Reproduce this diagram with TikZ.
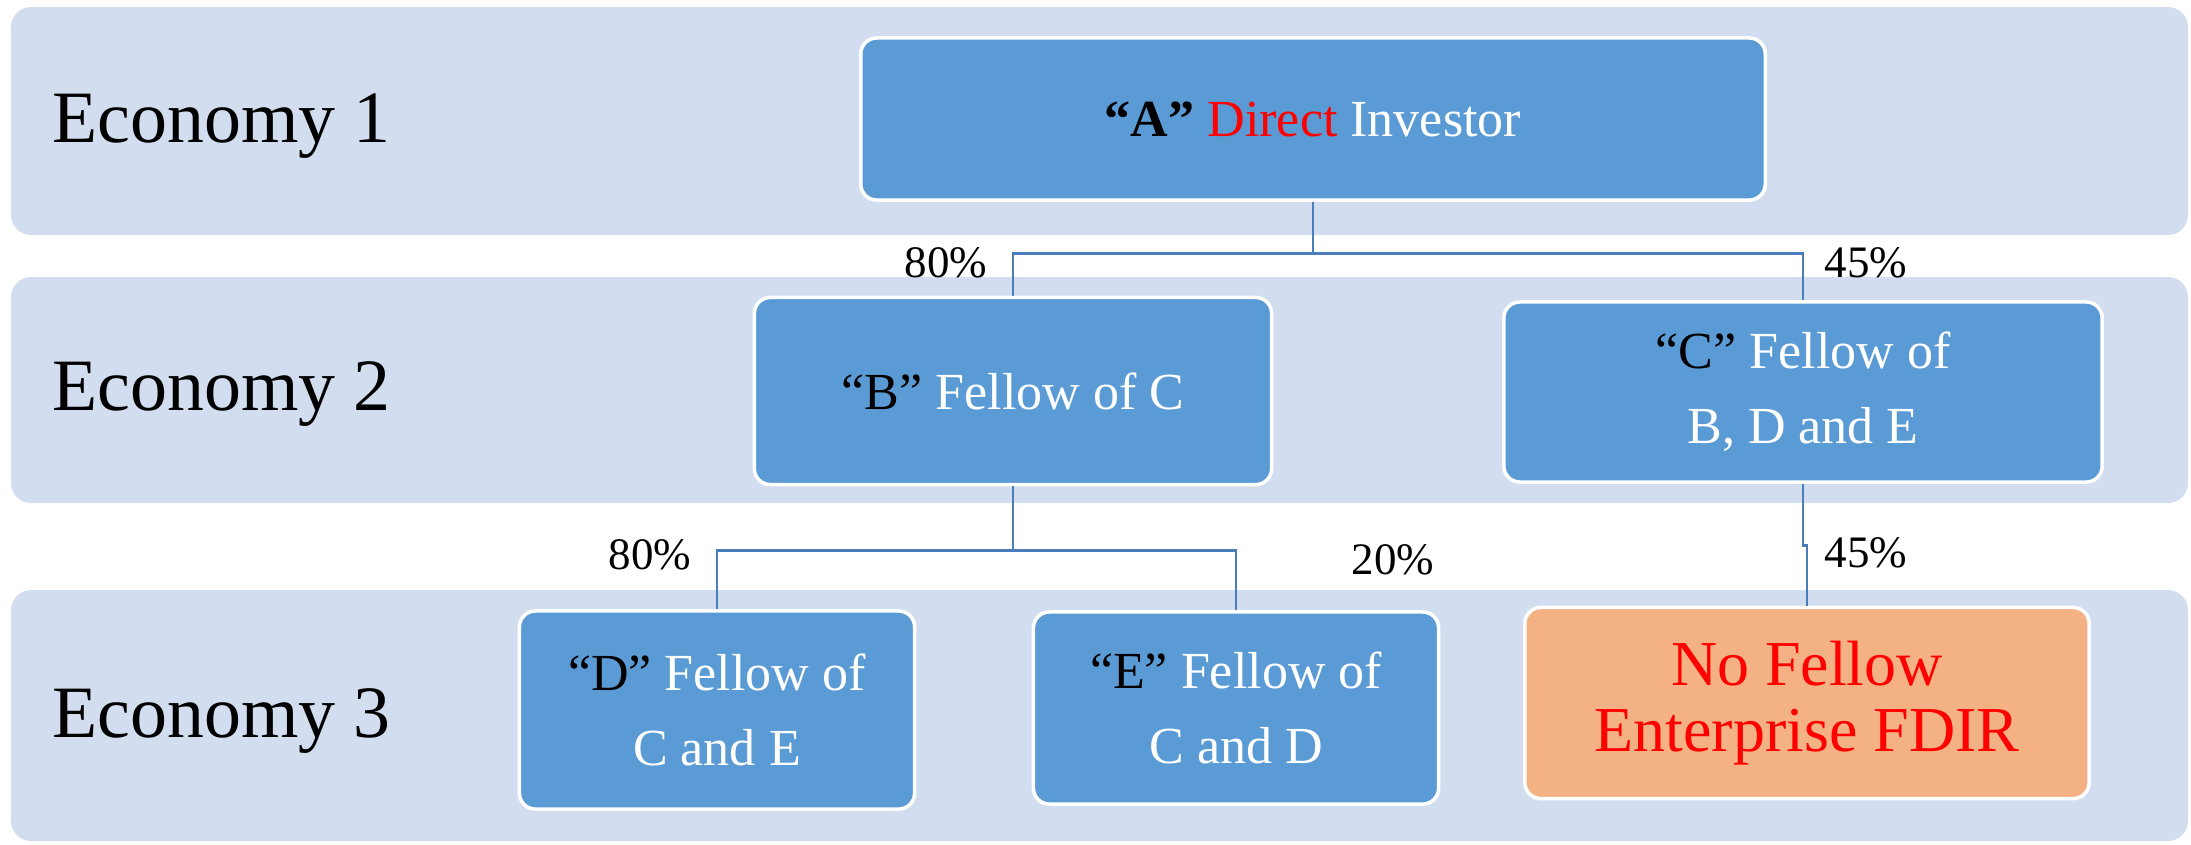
\documentclass[tikz,border=0pt]{standalone}
\usepackage{fontspec}
\setmainfont{Liberation Serif}
\usepackage{tikz}
\usetikzlibrary{positioning}
\definecolor{bandfill}{RGB}{210,222,239}
\definecolor{boxblue}{RGB}{91,155,213}
\definecolor{boxorange}{RGB}{244,177,131}
\definecolor{linkblue}{RGB}{74,126,187}
\definecolor{fdired}{RGB}{255,0,0}

\begin{document}
\begin{tikzpicture}[x=0.01cm,y=-0.01cm,
  band/.style={fill=bandfill, rounded corners=0.2cm},
  econ/.style={anchor=west, font=\fontsize{21}{24}\selectfont},
  entity/.style={draw=white, line width=1pt, fill=boxblue, rounded corners=0.16cm,
    align=center, text=white, font=\fontsize{14.8}{21.4}\selectfont},
  nofellow/.style={entity, fill=boxorange, text=fdired, font=\fontsize{18.2}{18.8}\selectfont},
  link/.style={linkblue, line width=0.8pt},
  pct/.style={font=\fontsize{12.8}{15}\selectfont}]
\useasboundingbox (0,0) rectangle (2191,844);

\fill [band] (11,7) rectangle (2188,235);
\fill [band] (11,277) rectangle (2188,503);
\fill [band] (11,590) rectangle (2188,841);

\node [econ] (e1) at (40,126) {Economy 1};
\node [econ] (e2) at (40,394) {Economy 2};
\node [econ] (e3) at (40,721) {Economy 3};

\node [entity, minimum width=9.04cm, minimum height=1.62cm] (A) at (1313,119)
  {\textcolor{black}{\textbf{“A”}} \textcolor{fdired}{Direct} Investor};
\node [entity, minimum width=5.17cm, minimum height=1.87cm] (B) at (1013,391)
  {\textcolor{black}{“B”} Fellow of C};
\node [entity, minimum width=5.98cm, minimum height=1.80cm] (C) at (1803,392)
  {\textcolor{black}{“C”} Fellow of\\B, D and E};
\node [entity, minimum width=3.95cm, minimum height=1.98cm] (D) at (717,710)
  {\textcolor{black}{“D”} Fellow of\\C and E};
\node [entity, minimum width=4.05cm, minimum height=1.92cm] (E) at (1236,708)
  {\textcolor{black}{“E”} Fellow of\\C and D};
\node [nofellow, minimum width=5.64cm, minimum height=1.91cm] (F) at (1807,703)
  {No Fellow\\Enterprise FDIR};

\draw [link] (A.south) -- ++(0,52) coordinate (ab) -| (B.north);
\draw [link] (ab) -| (C.north);
\draw [link] (B.south) -- ++(0,64) coordinate (bde) -| (D.north);
\draw [link] (bde) -| (E.north);
\draw [link] (C.south) -- ++(0,62) -| (F.north);

\node [pct] (p1) at (946,263) {80\%};
\node [pct] (p2) at (1866,263) {45\%};
\node [pct] (p3) at (650,555) {80\%};
\node [pct] (p4) at (1393,560) {20\%};
\node [pct] (p5) at (1866,553) {45\%};
\end{tikzpicture}
\end{document}
